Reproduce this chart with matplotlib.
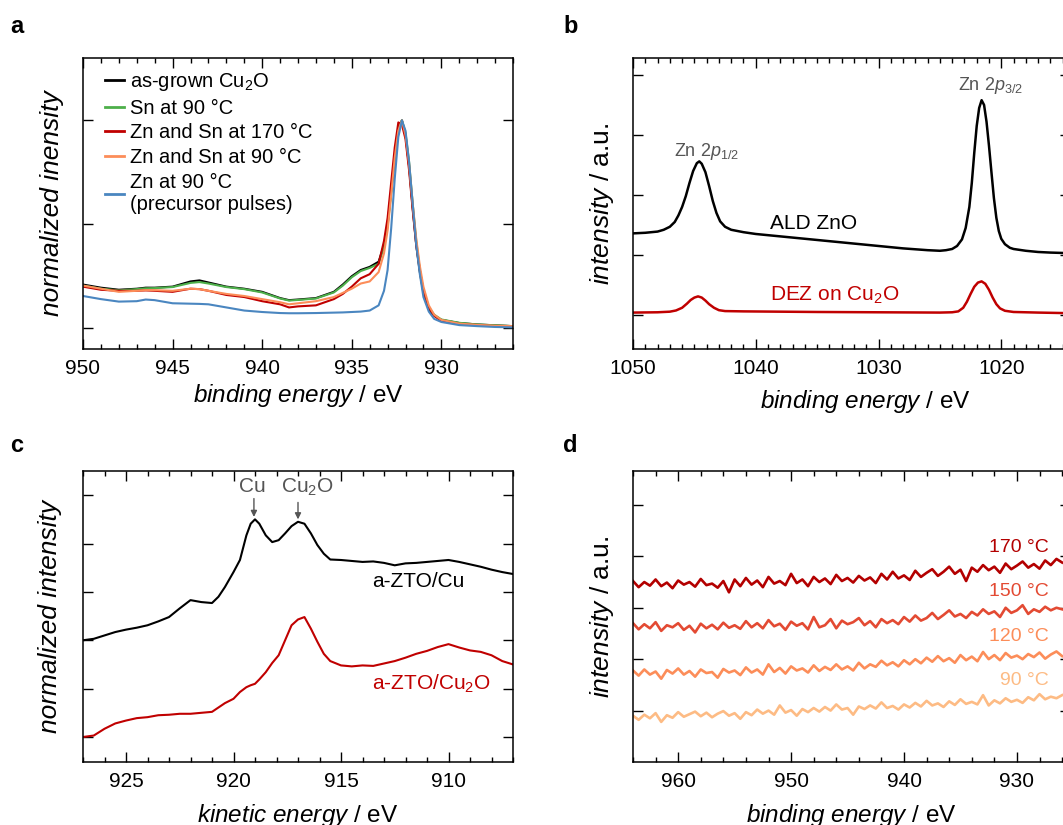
import numpy as np
import matplotlib
matplotlib.use('Agg')
from matplotlib import pyplot as plt
from matplotlib.ticker import MultipleLocator

plt.rcParams['font.family'] = ['Liberation Sans', 'DejaVu Sans']
plt.rcParams['mathtext.fontset'] = 'custom'
plt.rcParams['mathtext.rm'] = 'Liberation Sans'
plt.rcParams['mathtext.it'] = 'Liberation Sans:italic'

# ------------------------------------------------------------
# (a) Cu 2p3/2 region, normalized
e_a = [950, 949, 948, 947, 946.5, 946, 945, 944, 943.5, 943, 942, 941, 940,
       939, 938.5, 938, 937, 936, 935.5, 935, 934.5, 934, 933.5, 933.2, 933,
       932.8, 932.6, 932.4, 932.2, 932.0, 931.8, 931.6, 931.4, 931.2, 931.0,
       930.7, 930.4, 930, 929, 928, 927, 926]
a_grown = [.21, .195, .185, .19, .195, .195, .20, .225, .23, .22, .20, .19,
           .175, .145, .135, .138, .145, .175, .21, .25, .28, .295, .32, .40,
           .50, .66, .83, .96, 1.0, .93, .78, .58, .40, .27, .17, .09, .06,
           .04, .025, .018, .014, .01]
a_sn90 = [.205, .19, .182, .188, .192, .193, .198, .218, .222, .215, .198,
          .188, .172, .143, .133, .136, .143, .172, .205, .245, .275, .29,
          .31, .39, .49, .65, .82, .96, 1.0, .94, .80, .60, .42, .28, .18,
          .10, .065, .042, .026, .018, .014, .01]
a_znsn170 = [.20, .185, .18, .18, .182, .18, .175, .19, .188, .18, .16, .15,
             .13, .115, .10, .105, .11, .14, .165, .20, .24, .26, .31, .42,
             .53, .70, .87, .99, .98, .91, .76, .57, .40, .28, .18, .10, .06,
             .035, .02, .015, .01, .008]
a_znsn90 = [.205, .19, .175, .18, .183, .183, .18, .19, .188, .18, .165, .155,
            .14, .125, .115, .12, .13, .15, .17, .19, .215, .225, .27, .36,
            .47, .64, .82, .95, 1.0, .93, .79, .60, .43, .30, .20, .11, .065,
            .04, .022, .016, .012, .01]
a_zn90 = [.155, .14, .128, .13, .138, .135, .12, .118, .117, .115, .10, .085,
          .078, .073, .072, .072, .073, .075, .076, .078, .08, .085, .11, .18,
          .28, .48, .72, .92, 1.0, .95, .80, .60, .40, .26, .15, .08, .045,
          .03, .015, .01, .006, .004]
labels_a = ['as-grown Cu$_2$O', 'Sn at 90 °C', 'Zn and Sn at 170 °C',
            'Zn and Sn at 90 °C', 'Zn at 90 °C\n(precursor pulses)']
colors_a = ['black', '#4daf4a', '#c00000', '#fc8d59', '#4a86c0']

# (b) Zn 2p region
e_b_ald = [1050, 1049, 1048, 1047.5, 1047, 1046.6, 1046.3, 1046, 1045.7,
           1045.4, 1045.1, 1044.8, 1044.6, 1044.4, 1044.1, 1043.8, 1043.5,
           1043.2, 1042.9, 1042.5, 1042, 1041, 1040, 1038, 1035, 1032, 1030,
           1028, 1026, 1025, 1024.5, 1024, 1023.6, 1023.2, 1022.9, 1022.6,
           1022.4, 1022.2, 1022.0, 1021.8, 1021.6, 1021.4, 1021.2, 1021.0,
           1020.8, 1020.6, 1020.4, 1020.2, 1020.0, 1019.7, 1019.3, 1019,
           1018, 1017, 1016, 1014.4]
b_ald = [1.36, 1.37, 1.39, 1.42, 1.47, 1.55, 1.66, 1.80, 1.98, 2.20,
         2.40, 2.53, 2.56, 2.52, 2.38, 2.15, 1.90, 1.70, 1.56, 1.47,
         1.42, 1.38, 1.35, 1.31, 1.25, 1.19, 1.15, 1.11, 1.08, 1.07,
         1.08, 1.10, 1.15, 1.26, 1.45, 1.80, 2.20, 2.70, 3.15, 3.45,
         3.58, 3.50, 3.22, 2.82, 2.38, 1.95, 1.62, 1.40, 1.27, 1.18,
         1.12, 1.10, 1.07, 1.05, 1.04, 1.03]
e_b_dez = [1050, 1048, 1047, 1046.5, 1046, 1045.6, 1045.3, 1045, 1044.7,
           1044.4, 1044.1, 1043.8, 1043.4, 1043, 1042.5, 1041, 1035, 1030,
           1025, 1024, 1023.5, 1023.1, 1022.8, 1022.5, 1022.2, 1021.9,
           1021.6, 1021.3, 1021, 1020.7, 1020.4, 1020.1, 1019.7, 1019, 1017,
           1014.4]
b_dez = [0.04, 0.045, 0.055, 0.075, 0.12, 0.19, 0.25, 0.29, 0.31, 0.29,
         0.24, 0.18, 0.12, 0.08, 0.065, 0.06, 0.05, 0.045, 0.04, 0.045,
         0.06, 0.12, 0.22, 0.35, 0.47, 0.54, 0.56, 0.52, 0.42, 0.29,
         0.18, 0.11, 0.07, 0.05, 0.04, 0.03]

# (c) Auger region
e_c = [927, 926.5, 926, 925.5, 925, 924.5, 924, 923.5, 923, 922.5, 922,
       921.5, 921, 920.7, 920.4, 920, 919.7, 919.4, 919.2, 919, 918.8, 918.5,
       918.2, 917.9, 917.6, 917.3, 917, 916.7, 916.4, 916.1, 915.8, 915.5,
       915, 914.5, 914, 913.5, 913, 912.5, 912, 911.5, 911, 910.5, 910,
       909.5, 909, 908.5, 908, 907.5, 907]
c_cu = [2.00, 2.03, 2.10, 2.17, 2.22, 2.26, 2.31, 2.39, 2.48, 2.66, 2.83,
        2.79, 2.77, 2.90, 3.10, 3.41, 3.66, 4.17, 4.41, 4.50, 4.41, 4.17,
        4.03, 4.07, 4.21, 4.36, 4.45, 4.41, 4.21, 3.97, 3.79, 3.67, 3.66,
        3.64, 3.62, 3.63, 3.60, 3.55, 3.59, 3.60, 3.62, 3.64, 3.66, 3.62,
        3.57, 3.52, 3.46, 3.41, 3.37]
c_cu2o = [0.00, 0.03, 0.17, 0.28, 0.34, 0.39, 0.41, 0.45, 0.46, 0.48, 0.48,
          0.50, 0.52, 0.61, 0.70, 0.79, 0.93, 1.03, 1.07, 1.10, 1.19, 1.34,
          1.53, 1.69, 2.00, 2.31, 2.43, 2.48, 2.24, 1.97, 1.72, 1.57, 1.48,
          1.46, 1.48, 1.47, 1.52, 1.57, 1.64, 1.72, 1.78, 1.86, 1.92, 1.85,
          1.79, 1.76, 1.69, 1.57, 1.50]

# (d) Sn region at different temperatures
e_d = np.linspace(964, 926, 77)
d_170 = [2.52, 2.40, 2.50, 2.43, 2.55, 2.42, 2.49, 2.38, 2.53, 2.45,
         2.50, 2.41, 2.56, 2.44, 2.47, 2.39, 2.52, 2.30, 2.55, 2.42,
         2.58, 2.45, 2.53, 2.40, 2.60, 2.47, 2.52, 2.44, 2.66, 2.48,
         2.55, 2.42, 2.60, 2.50, 2.57, 2.46, 2.64, 2.52, 2.58, 2.49,
         2.62, 2.53, 2.59, 2.48, 2.66, 2.55, 2.70, 2.57, 2.63, 2.54,
         2.72, 2.60, 2.68, 2.75, 2.62, 2.70, 2.80, 2.66, 2.74, 2.52,
         2.78, 2.70, 2.83, 2.73, 2.80, 2.68, 2.86, 2.75, 2.82, 2.90,
         2.78, 2.85, 2.76, 2.92, 2.83, 2.95, 2.88]
d_150 = [1.70, 1.58, 1.68, 1.60, 1.72, 1.55, 1.66, 1.62, 1.70, 1.57,
         1.65, 1.52, 1.69, 1.60, 1.67, 1.58, 1.71, 1.61, 1.66, 1.59,
         1.74, 1.62, 1.70, 1.60, 1.76, 1.64, 1.69, 1.57, 1.73, 1.65,
         1.70, 1.58, 1.82, 1.62, 1.66, 1.78, 1.60, 1.75, 1.68, 1.72,
         1.80, 1.66, 1.74, 1.62, 1.78, 1.70, 1.76, 1.68, 1.82, 1.73,
         1.85, 1.75, 1.80, 1.90, 1.78, 1.86, 1.95, 1.83, 1.88, 1.80,
         1.92, 1.85, 1.97, 1.88, 1.93, 1.82, 2.00, 1.90, 1.95, 2.05,
         1.88, 1.97, 1.92, 2.02, 1.95, 2.00, 1.97]
d_120 = [0.78, 0.68, 0.80, 0.70, 0.76, 0.62, 0.79, 0.72, 0.82, 0.70,
         0.77, 0.66, 0.80, 0.73, 0.75, 0.64, 0.81, 0.74, 0.78, 0.69,
         0.84, 0.74, 0.80, 0.70, 0.90, 0.75, 0.83, 0.72, 0.86, 0.78,
         0.82, 0.74, 0.88, 0.77, 0.85, 0.79, 0.90, 0.80, 0.86, 0.78,
         0.93, 0.82, 0.90, 0.85, 0.97, 0.88, 0.94, 0.86, 0.98, 0.90,
         1.00, 0.92, 1.03, 0.95, 1.06, 0.96, 1.02, 0.93, 1.08, 0.98,
         1.05, 0.96, 1.14, 1.00, 1.08, 0.98, 1.12, 1.03, 1.07, 1.00,
         1.10, 1.04, 1.13, 1.01, 1.09, 1.15, 1.06]
d_90 = [-0.10, -0.18, -0.08, -0.15, -0.05, -0.22, -0.09, -0.14, -0.03, -0.12,
        -0.07, -0.02, -0.11, -0.04, -0.13, -0.06, -0.01, -0.10, -0.05, -0.16,
        -0.03, -0.09, 0.02, -0.06, 0.00, -0.08, 0.10, -0.04, 0.01, -0.10,
        0.03, -0.03, 0.05, -0.02, 0.07, 0.00, 0.12, 0.02, 0.05, -0.08,
        0.08, 0.03, 0.10, 0.04, 0.16, 0.05, 0.09, 0.02, 0.12, 0.06,
        0.15, 0.08, 0.19, 0.10, 0.14, 0.07, 0.18, 0.11, 0.22, 0.13,
        0.17, 0.12, 0.30, 0.10, 0.20, 0.14, 0.24, 0.17, 0.21, 0.15,
        0.26, 0.20, 0.32, 0.22, 0.27, 0.24, 0.30]
temps_d = ['170 °C', '150 °C', '120 °C', '90 °C']
colors_d = ['#b30000', '#e34a33', '#fc8d59', '#fdbb84']
label_y_d = [3.18, 2.31, 1.44, 0.58]

gray = '#555555'
red = '#c00000'

# ------------------------------------------------------------
fig = plt.figure(figsize=(10.63, 8.25), dpi=100)
W, H = 1063., 825.


def make_axes(left, top, right, bottom):
    return fig.add_axes([left / W, 1 - bottom / H, (right - left) / W,
                         (bottom - top) / H])


def style(ax, minor):
    for s in ax.spines.values():
        s.set_linewidth(1.1)
    ax.xaxis.set_minor_locator(MultipleLocator(minor))
    ax.tick_params(which='both', direction='in', top=True, right=True,
                   width=1.0, labelsize=15, pad=7)
    ax.tick_params(which='major', length=7)
    ax.tick_params(which='minor', length=3.5)
    ax.tick_params(axis='y', which='minor', left=False, right=False)
    ax.set_yticklabels([])


def xlab(ax, pad):
    ax.set_xlabel(r'$\mathit{binding\ energy}$ / eV', fontsize=17.5,
                  labelpad=pad)


# ---- a
ax = make_axes(83, 58, 513, 349)
for y, lab, c in zip([a_grown, a_sn90, a_znsn170, a_znsn90, a_zn90],
                     labels_a, colors_a):
    ax.plot(e_a, y, color=c, lw=1.5, label=lab)
ax.set_xlim(950, 926)
ax.set_ylim(-0.1, 1.3)
ax.xaxis.set_major_locator(MultipleLocator(5))
ax.set_yticks([0, 0.5, 1.0])
style(ax, 1)
xlab(ax, 3)
ax.set_ylabel('normalized inensity', fontsize=19, style='italic',
              labelpad=6.5)
leg = ax.legend(loc='upper left', bbox_to_anchor=(0.05, 0.955),
                frameon=False, fontsize=14.5, handlelength=0.95,
                handletextpad=0.3, labelspacing=0.28, borderpad=0,
                borderaxespad=0)
for h in leg.get_lines():
    h.set_linewidth(2.0)
for t in leg.get_texts():
    t.set_linespacing(1.25)

# ---- b
ax = make_axes(633, 58, 1070, 349)
ax.plot(e_b_ald, b_ald, color='black', lw=1.8)
ax.plot(e_b_dez, b_dez, color=red, lw=1.8)
ax.set_xlim(1050, 1014.4)
ax.set_ylim(-0.567, 4.283)
ax.xaxis.set_major_locator(MultipleLocator(10))
ax.set_yticks([0, 1, 2, 3, 4])
style(ax, 1)
xlab(ax, 7)
ax.xaxis.set_label_coords(0.533, -0.135, transform=ax.transAxes)
ax.set_ylabel(r'$\mathit{intensity}$ / a.u.', fontsize=19, labelpad=5)
ax.text(1046.66, 2.65, r'Zn 2$\mathit{p}_{\mathrm{1/2}}$', color=gray,
        fontsize=13, va='baseline')
ax.text(1023.5, 3.75, r'Zn 2$\mathit{p}_{\mathrm{3/2}}$', color=gray,
        fontsize=13, va='baseline')
ax.text(1038.8, 1.44, 'ALD ZnO', color='black', fontsize=15, va='baseline')
ax.text(1038.8, 0.24, 'DEZ on Cu$_2$O', color=red, fontsize=15,
        va='baseline')

# ---- c
ax = make_axes(83, 471, 513, 762)
ax.plot(e_c, c_cu, color='black', lw=1.5)
ax.plot(e_c, c_cu2o, color=red, lw=1.5)
ax.set_xlim(927, 907)
ax.set_ylim(-0.517, 5.5)
ax.xaxis.set_major_locator(MultipleLocator(5))
ax.set_yticks([0, 1, 2, 3, 4, 5])
style(ax, 1)
ax.set_xlabel(r'$\mathit{kinetic\ energy}$ / eV', fontsize=17.5, labelpad=8)
ax.set_ylabel('normalized intensity', fontsize=19, style='italic',
              labelpad=8)
ax.text(919.1, 5.17, 'Cu', color=gray, fontsize=15, ha='center',
        va='center')
ax.text(916.57, 5.17, 'Cu$_2$O', color=gray, fontsize=15, ha='center',
        va='center')
for x0, y0, y1 in [(919.05, 4.93, 4.55), (917.0, 4.85, 4.50)]:
    ax.annotate('', xy=(x0, y1), xytext=(x0, y0),
                arrowprops=dict(arrowstyle='-|>', color=gray, lw=1.0,
                                mutation_scale=9, shrinkA=0, shrinkB=0))
ax.text(913.54, 3.10, 'a-ZTO/Cu', color='black', fontsize=15,
        va='baseline')
ax.text(913.54, 0.98, 'a-ZTO/Cu$_2$O', color=red, fontsize=15,
        va='baseline')

# ---- d
ax = make_axes(633, 471, 1070, 762)
for y, c in zip([d_170, d_150, d_120, d_90], colors_d):
    ax.plot(e_d, y, color=c, lw=1.9)
ax.set_xlim(964, 925.3)
ax.set_ylim(-1.0, 4.66)
ax.xaxis.set_major_locator(MultipleLocator(10))
ax.set_yticks([0, 1, 2, 3, 4])
style(ax, 2)
xlab(ax, 8)
ax.set_ylabel(r'$\mathit{intensity}$ / a.u.', fontsize=19, labelpad=5)
for t, c, yy in zip(temps_d, colors_d, label_y_d):
    ax.text(927.2, yy, t, color=c, fontsize=14, ha='right', va='center')

# ---- panel letters
for x, y, s in [(10, 33, 'a'), (563, 33, 'b'), (10, 452, 'c'),
                (563, 452, 'd')]:
    fig.text(x / W, 1 - y / H, s, fontsize=17, fontweight='bold',
             ha='left', va='baseline')

fig.savefig('out.png', dpi=100)
